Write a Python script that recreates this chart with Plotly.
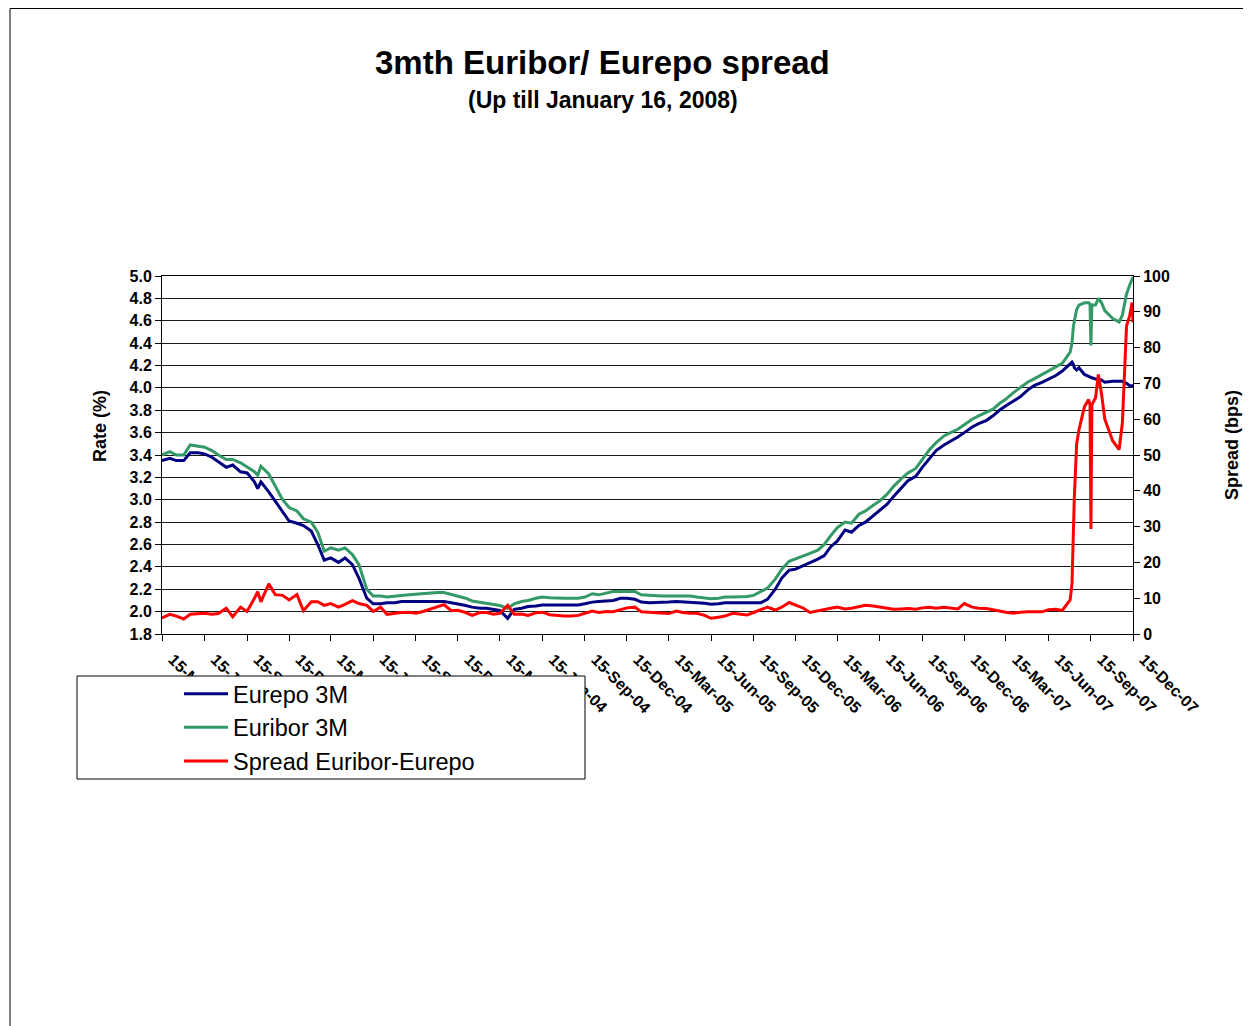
import plotly.graph_objects as go

# ---- data ----
dates = [
    "2002-03-15", "2002-04-01", "2002-04-15", "2002-05-01", "2002-05-15", "2002-06-01", "2002-06-15",
    "2002-07-01", "2002-07-15", "2002-08-01", "2002-08-15", "2002-09-01", "2002-09-15", "2002-10-01",
    "2002-10-08", "2002-10-15", "2002-11-01", "2002-11-15", "2002-12-01", "2002-12-15",
    "2003-01-01", "2003-01-15", "2003-02-01", "2003-02-15", "2003-03-01", "2003-03-15", "2003-04-01",
    "2003-04-15", "2003-05-01", "2003-05-15", "2003-06-01", "2003-06-15", "2003-07-01", "2003-07-15",
    "2003-08-01", "2003-08-15", "2003-09-01", "2003-09-15", "2003-10-01", "2003-10-15", "2003-11-01",
    "2003-11-15", "2003-12-01", "2003-12-15",
    "2004-01-01", "2004-01-15", "2004-02-01", "2004-02-15", "2004-03-01", "2004-03-15", "2004-04-01",
    "2004-04-15", "2004-05-01", "2004-05-15", "2004-06-01", "2004-06-15", "2004-07-01", "2004-07-15",
    "2004-08-01", "2004-08-15", "2004-09-01", "2004-09-15", "2004-10-01", "2004-10-15", "2004-11-01",
    "2004-11-15", "2004-12-01", "2004-12-15",
    "2005-01-01", "2005-01-15", "2005-02-01", "2005-02-15", "2005-03-01", "2005-03-15", "2005-04-01",
    "2005-04-15", "2005-05-01", "2005-05-15", "2005-06-01", "2005-06-15", "2005-07-01", "2005-07-15",
    "2005-08-01", "2005-08-15", "2005-09-01", "2005-09-15", "2005-10-01", "2005-10-15", "2005-11-01",
    "2005-11-15", "2005-12-01", "2005-12-15",
    "2006-01-01", "2006-01-15", "2006-02-01", "2006-02-15", "2006-03-01", "2006-03-15", "2006-04-01",
    "2006-04-15", "2006-05-01", "2006-05-15", "2006-06-01", "2006-06-15", "2006-07-01", "2006-07-15",
    "2006-08-01", "2006-08-15", "2006-09-01", "2006-09-15", "2006-10-01", "2006-10-15", "2006-11-01",
    "2006-11-15", "2006-12-01", "2006-12-15",
    "2007-01-01", "2007-01-15", "2007-02-01", "2007-02-15", "2007-03-01", "2007-03-15", "2007-04-01",
    "2007-04-15", "2007-05-01", "2007-05-15", "2007-06-01", "2007-06-15", "2007-07-01", "2007-07-15",
    "2007-08-01", "2007-08-05", "2007-08-08", "2007-08-10", "2007-08-15", "2007-08-20", "2007-09-01",
    "2007-09-10", "2007-09-13", "2007-09-15", "2007-09-17", "2007-09-25", "2007-10-01", "2007-10-08",
    "2007-10-15", "2007-11-01", "2007-11-15", "2007-11-22", "2007-12-01", "2007-12-08", "2007-12-13",
    "2007-12-15",
]

eurepo_3m = [
    3.35, 3.37, 3.35, 3.35, 3.42, 3.42, 3.41,
    3.38, 3.34, 3.29, 3.31, 3.25, 3.24, 3.16,
    3.10, 3.16, 3.07, 2.99, 2.89, 2.81,
    2.79, 2.77, 2.72, 2.60, 2.46, 2.48, 2.44,
    2.48, 2.42, 2.30, 2.12, 2.07, 2.07, 2.08,
    2.08, 2.09, 2.09, 2.09, 2.09, 2.09, 2.09,
    2.09, 2.08, 2.07,
    2.055, 2.04, 2.03, 2.03, 2.02, 2.01, 1.94,
    2.02, 2.03, 2.045, 2.05, 2.06, 2.06, 2.06,
    2.06, 2.06, 2.06, 2.07, 2.085, 2.09, 2.095,
    2.10, 2.12, 2.12,
    2.11, 2.085, 2.08, 2.08, 2.08, 2.085, 2.09,
    2.085, 2.08, 2.08, 2.075, 2.065, 2.07, 2.08,
    2.08, 2.08, 2.08, 2.08, 2.08, 2.11, 2.20,
    2.30, 2.37, 2.38,
    2.41, 2.44, 2.47, 2.50, 2.58, 2.63, 2.73,
    2.71, 2.77, 2.80, 2.86, 2.91, 2.96, 3.03,
    3.11, 3.17, 3.21, 3.29, 3.37, 3.44, 3.49,
    3.52, 3.56, 3.60,
    3.65, 3.68, 3.71, 3.75, 3.80, 3.84, 3.88,
    3.92, 3.98, 4.02, 4.05, 4.08, 4.11, 4.15,
    4.21, 4.23, 4.21, 4.18, 4.16, 4.18, 4.12,
    4.10, 4.10, 4.09, 4.09, 4.08, 4.08, 4.07,
    4.05, 4.06, 4.06, 4.06, 4.04, 4.02, 4.02,
    4.02,
]

euribor_3m = [
    3.40, 3.43, 3.40, 3.40, 3.49, 3.48, 3.47,
    3.44, 3.40, 3.36, 3.36, 3.33, 3.29, 3.25,
    3.22, 3.30, 3.23, 3.12, 3.00, 2.93,
    2.90, 2.83, 2.80, 2.71, 2.54, 2.57, 2.55,
    2.57, 2.51, 2.42, 2.20, 2.14, 2.14, 2.13,
    2.14, 2.145, 2.15, 2.155, 2.16, 2.17, 2.17,
    2.17, 2.155, 2.14,
    2.12, 2.095, 2.085, 2.07, 2.065, 2.055, 2.03,
    2.07, 2.09, 2.10, 2.12, 2.13, 2.125, 2.12,
    2.12, 2.12, 2.12, 2.13, 2.16, 2.15, 2.165,
    2.18, 2.18, 2.18,
    2.18, 2.15, 2.145, 2.145, 2.14, 2.14, 2.14,
    2.14, 2.14, 2.13, 2.125, 2.115, 2.12, 2.13,
    2.13, 2.13, 2.135, 2.145, 2.18, 2.21, 2.29,
    2.38, 2.45, 2.47,
    2.50, 2.52, 2.55, 2.60, 2.68, 2.75, 2.80,
    2.79, 2.87, 2.90, 2.95, 2.99, 3.05, 3.12,
    3.19, 3.24, 3.28, 3.36, 3.45, 3.51, 3.57,
    3.60, 3.63, 3.67,
    3.72, 3.75, 3.78, 3.81, 3.86, 3.90, 3.96,
    4.00, 4.05, 4.08, 4.12, 4.15, 4.19, 4.22,
    4.32, 4.40, 4.55, 4.60, 4.70, 4.74, 4.76,
    4.76, 4.75, 4.38, 4.74, 4.74, 4.80, 4.76,
    4.69, 4.62, 4.59, 4.65, 4.84, 4.92, 4.98,
    4.99,
]

spread_bps = [
    4.5, 5.5, 5.0, 4.2, 5.5, 5.6, 5.8,
    5.5, 5.7, 7.2, 4.8, 7.5, 6.3, 10.0,
    11.8, 9.0, 14.0, 11.0, 10.8, 9.5,
    11.0, 6.5, 9.0, 9.0, 8.0, 8.5, 7.5,
    8.3, 9.3, 8.5, 8.0, 6.3, 7.5, 5.5,
    5.8, 6.0, 6.1, 5.8, 6.3, 6.9, 7.8,
    8.2, 6.5, 6.6,
    6.0, 5.2, 6.0, 6.0, 5.5, 5.8, 8.0,
    5.5, 5.6, 5.2, 5.9, 6.1, 5.4, 5.2,
    5.0, 5.0, 5.2, 5.8, 6.4, 6.0, 6.3,
    6.2, 6.9, 7.3,
    7.5, 6.2, 6.1, 6.0, 5.8, 5.7, 6.4,
    6.0, 5.8, 5.8, 5.2, 4.4, 4.7, 5.0,
    5.8, 5.5, 5.3, 6.0, 6.9, 7.5, 6.7,
    7.5, 8.8, 8.0,
    7.2, 6.0, 6.5, 6.8, 7.2, 7.5, 7.0,
    7.2, 7.7, 8.0, 7.8, 7.5, 7.2, 6.9,
    7.0, 7.1, 6.9, 7.3, 7.5, 7.2, 7.5,
    7.3, 7.0, 8.5,
    7.5, 7.2, 7.1, 6.8, 6.4, 6.1, 5.8,
    6.1, 6.2, 6.2, 6.2, 6.8, 6.9, 6.6,
    9.5, 14.0, 28.0, 38.0, 53.0, 57.0, 63.5,
    65.5, 64.0, 29.3, 64.0, 66.0, 72.5, 67.0,
    60.0, 54.0, 51.5, 59.0, 86.0, 89.0, 92.6,
    87.0,
]

tick_dates = [f"{y}-{m:02d}-15" for y in range(2002, 2008) for m in (3, 6, 9, 12)]

FONT = "Liberation Sans, Arial, sans-serif"

# page offset (default body margin) and plot-area geometry in window pixels
OFF = 8
W, H = 1251 - OFF, 1026 - OFF
L, R, T, B = 162, 1133, 276, 634
PW, PH = R - L, B - T


def px(x):
    return (x - L) / PW


def py(y):
    return (B - y) / PH


fig = go.Figure()
fig.add_trace(go.Scatter(x=dates, y=eurepo_3m, name="Eurepo 3M", mode="lines",
                         line=dict(color="#000080", width=3), legendgroup="a"))
fig.add_trace(go.Scatter(x=dates, y=euribor_3m, name="Euribor 3M", mode="lines",
                         line=dict(color="#339966", width=3), legendgroup="b"))
fig.add_trace(go.Scatter(x=dates, y=spread_bps, name="Spread Euribor-Eurepo", mode="lines",
                         line=dict(color="#FF0000", width=3), yaxis="y2", legendgroup="c"))

tickfont = dict(family=FONT, size=16, color="black", weight="bold")

fig.update_layout(
    width=W, height=H,
    margin=dict(l=L - OFF, r=W - (R - OFF), t=T - OFF, b=H - (B - OFF), pad=0),
    paper_bgcolor="white", plot_bgcolor="white",
    font=dict(family=FONT, color="black"),
    showlegend=True,
    xaxis=dict(
        type="date", range=[tick_dates[0], tick_dates[-1]],
        tickmode="array", tickvals=tick_dates, tickformat="%d-%b-%y",
        tickangle=45, tickfont=tickfont, ticklabelshift=11, ticklabelstandoff=3,
        ticks="outside", ticklen=6, tickcolor="black", tickwidth=1,
        showline=True, linecolor="black", linewidth=1, mirror=True,
        showgrid=False, zeroline=False,
    ),
    yaxis=dict(
        range=[1.8, 5.0], dtick=0.2, tick0=1.8, tickformat=".1f",
        tickfont=tickfont, ticks="outside", ticklen=6, tickcolor="black",
        showline=True, linecolor="black", linewidth=1,
        showgrid=True, gridcolor="#1a1a1a", gridwidth=1, zeroline=False,
    ),
    yaxis2=dict(
        overlaying="y", side="right", range=[0, 100], dtick=10, tick0=0,
        tickfont=tickfont, ticks="outside", ticklen=6, tickcolor="black",
        showline=True, linecolor="black", linewidth=1,
        showgrid=False, zeroline=False,
    ),
    legend=dict(
        x=px(179), y=py(672), xanchor="left", yanchor="top",
        bgcolor="rgba(0,0,0,0)", borderwidth=0,
        font=dict(family=FONT, size=23.5, color="black"),
        traceorder="grouped", tracegroupgap=0, itemwidth=44,
    ),
    shapes=[
        # outer frame
        dict(type="rect", xref="paper", yref="paper",
             x0=px(10), x1=px(1262), y0=py(1040), y1=py(OFF + 0.5),
             line=dict(color="black", width=1), fillcolor="rgba(0,0,0,0)", layer="below"),
        # legend box
        dict(type="rect", xref="paper", yref="paper",
             x0=px(77), x1=px(585), y0=py(779), y1=py(676),
             line=dict(color="black", width=1), fillcolor="white", layer="above"),
    ],
    annotations=[
        dict(text="3mth Euribor/ Eurepo spread", xref="paper", yref="paper",
             x=px(602), y=py(62), xanchor="center", yanchor="middle", showarrow=False,
             font=dict(family=FONT, size=33, color="black", weight="bold")),
        dict(text="(Up till January 16, 2008)", xref="paper", yref="paper",
             x=px(603), y=py(100), xanchor="center", yanchor="middle", showarrow=False,
             font=dict(family=FONT, size=23, color="black", weight="bold")),
        dict(text="Rate (%)", xref="paper", yref="paper", textangle=-90,
             x=px(100), y=py(426), xanchor="center", yanchor="middle", showarrow=False,
             font=dict(family=FONT, size=18, color="black", weight="bold")),
        dict(text="Spread (bps)", xref="paper", yref="paper", textangle=-90,
             x=px(1232), y=py(445), xanchor="center", yanchor="middle", showarrow=False,
             font=dict(family=FONT, size=18, color="black", weight="bold")),
    ],
)

fig.write_html("out.html")
